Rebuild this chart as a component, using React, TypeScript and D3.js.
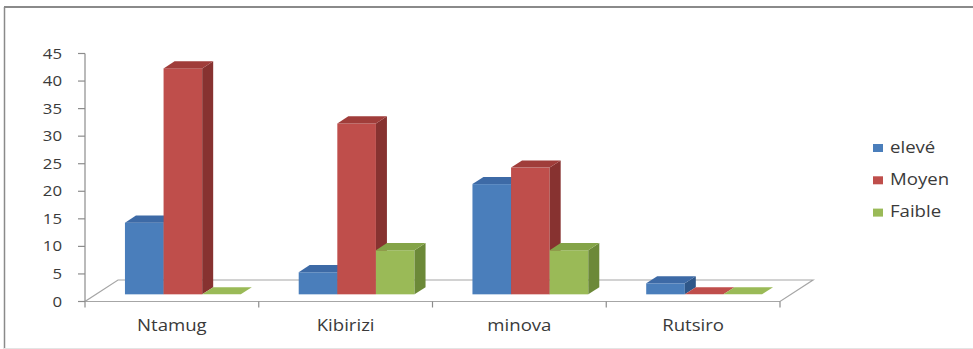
import React from "react";
import * as d3 from "d3";

// Sites and levels
const categories = ["Ntamug", "Kibirizi", "minova", "Rutsiro"];
const seriesNames = ["elevé", "Moyen", "Faible"];
const eleve = [13, 4, 20, 2];
const moyen = [41, 31, 23, 0];
const faible = [0, 8, 8, 0];
const yTicks = [0, 5, 10, 15, 20, 25, 30, 35, 40, 45];

const seriesValues = [eleve, moyen, faible];

// face colours per series: front, top, side
const palette = [
  { front: "#4a7ebb", top: "#3d6aa6", side: "#2f5789" },
  { front: "#bf4e4b", top: "#a03d3a", side: "#873230" },
  { front: "#9aba57", top: "#84a448", side: "#6c8938" },
];

const W = 973;
const H = 349;
const x0 = 85; // front-left corner of the floor
const x1 = 780; // front-right corner of the floor
const yBase = 301.5; // front edge of the floor
const depthX = 33; // oblique depth offset of the whole floor
const depthY = -21.5;
const SX = 1.2; // horizontal stretch of the text

function Label(props: {
  x: number;
  y: number;
  anchor: "start" | "middle" | "end";
  size: number;
  children: React.ReactNode;
}) {
  return (
    <text
      transform={`translate(${props.x},${props.y}) scale(${SX},1)`}
      textAnchor={props.anchor}
      fontFamily="'Open Sans', sans-serif"
      fontSize={props.size}
      fill="#3a3a3a"
    >
      {props.children}
    </text>
  );
}

export default function App() {
  const xCat = d3.scaleBand<string>().domain(categories).range([x0, x1]).padding(0);
  const xSer = d3
    .scaleBand<string>()
    .domain(seriesNames)
    .range([0, xCat.bandwidth()])
    .paddingInner(0)
    .paddingOuter(0.75);
  const y = d3.scaleLinear().domain([0, 45]).range([yBase, 53.5]);

  // bars stand in the middle third of the floor depth
  const bx = depthX / 3;
  const by = depthY / 3;
  const w = xSer.bandwidth();

  const bars: React.ReactNode[] = [];
  categories.forEach((c, ci) => {
    seriesNames.forEach((s, si) => {
      const v = seriesValues[si][ci];
      const col = palette[si];
      const xl = (xCat(c) as number) + (xSer(s) as number) + bx;
      const xr = xl + w;
      const yb = yBase + by;
      const yt = y(v) + by;
      const key = `${ci}-${si}`;
      bars.push(
        <g key={key}>
          {v > 0 && <rect x={xl} y={yt} width={w} height={yb - yt} fill={col.front} />}
          {v > 0 && (
            <polygon
              points={`${xr},${yt} ${xr + bx},${yt + by} ${xr + bx},${yb + by} ${xr},${yb}`}
              fill={col.side}
            />
          )}
          <polygon
            points={`${xl},${yt} ${xr},${yt} ${xr + bx},${yt + by} ${xl + bx},${yt + by}`}
            fill={v > 0 ? col.top : col.front}
          />
        </g>
      );
    });
  });

  const boundaries = [...categories.map((c) => xCat(c) as number), x1];

  return (
    <svg
      width={W}
      height={H}
      style={{ position: "absolute", left: 0, top: 0, background: "#fff" }}
    >
      <rect x={0} y={0} width={W} height={H} fill="#fff" />
      {/* frame */}
      <line x1={4.5} y1={7} x2={4.5} y2={H} stroke="#8a8a8a" strokeWidth={1.5} />
      <line x1={4} y1={7} x2={W} y2={7} stroke="#8a8a8a" strokeWidth={2} />
      <line x1={4} y1={348.5} x2={W} y2={348.5} stroke="#e4e4e4" strokeWidth={1} />

      {/* floor */}
      <polygon
        points={`${x0},${yBase} ${x1},${yBase} ${x1 + depthX},${yBase + depthY} ${x0 + depthX},${yBase + depthY}`}
        fill="#fff"
        stroke="#a6a6a6"
        strokeWidth={1.2}
      />

      {/* value axis */}
      <line x1={x0} y1={y(45)} x2={x0} y2={yBase} stroke="#8c8c8c" strokeWidth={1.2} />
      {yTicks.map((t) => (
        <g key={t}>
          <line x1={x0 - 7} x2={x0} y1={y(t)} y2={y(t)} stroke="#8c8c8c" strokeWidth={1.2} />
          <Label x={62} y={y(t) + 5} anchor="end" size={14}>
            {t}
          </Label>
        </g>
      ))}

      {/* category ticks */}
      {boundaries.map((b, i) => (
        <line key={i} x1={b} x2={b} y1={yBase} y2={yBase + 6} stroke="#8c8c8c" strokeWidth={1.2} />
      ))}

      {bars}

      {/* category labels */}
      {categories.map((c) => (
        <Label key={c} x={(xCat(c) as number) + xCat.bandwidth() / 2} y={331} anchor="middle" size={15.5}>
          {c}
        </Label>
      ))}

      {/* legend */}
      {seriesNames.map((s, i) => (
        <g key={s}>
          <rect x={873} y={144 + i * 32.3} width={10} height={8} fill={palette[i].front} />
          <Label x={890} y={152.5 + i * 32.3} anchor="start" size={15.5}>
            {s}
          </Label>
        </g>
      ))}
    </svg>
  );
}
